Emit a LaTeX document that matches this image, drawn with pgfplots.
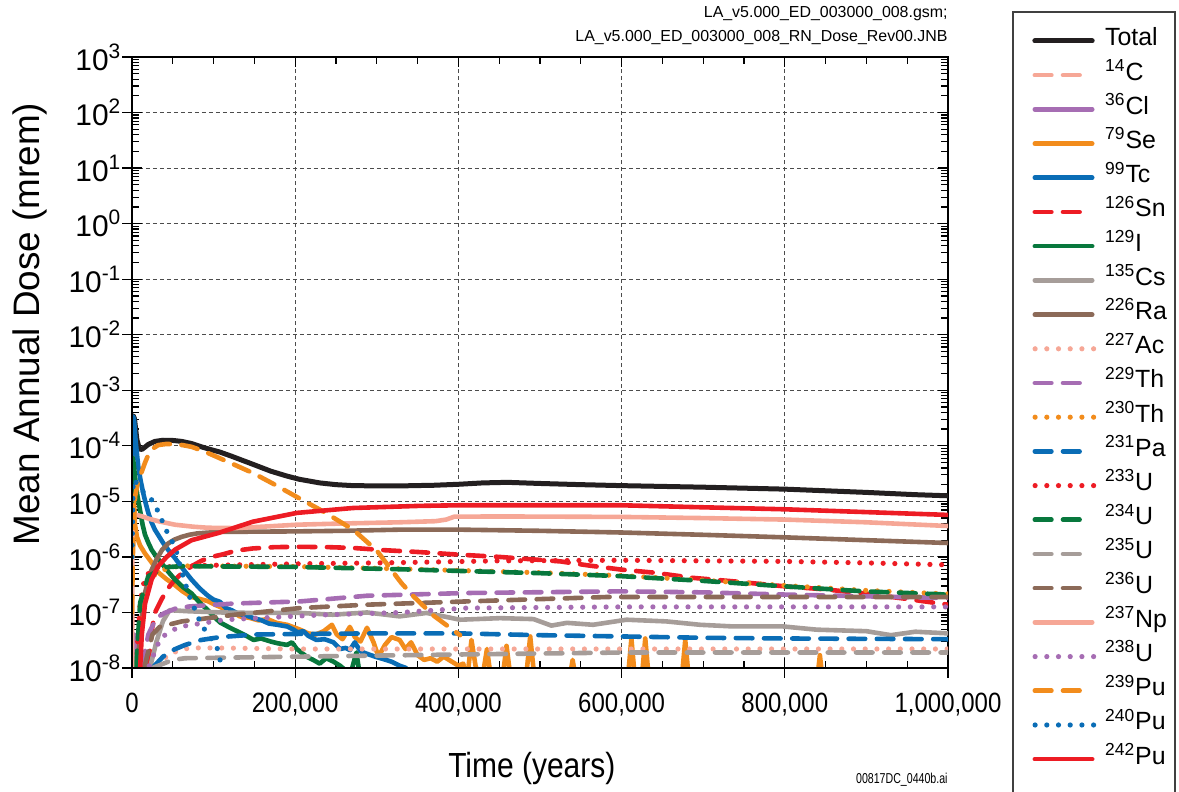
\documentclass[border=0pt]{standalone}
\usepackage{fontspec}
\setmainfont{Liberation Sans}
\newfontfamily\narrowfont{Liberation Sans}[FakeStretch=0.86]
\newfontfamily\narrowerfont{Liberation Sans}[FakeStretch=0.74]
\usepackage{pgfplots}
\pgfplotsset{compat=1.18}
\definecolor{cblack}{HTML}{231F20}
\definecolor{csalmon}{HTML}{F6A796}
\definecolor{cpurple}{HTML}{A66DB3}
\definecolor{corange}{HTML}{F28C1C}
\definecolor{cblue}{HTML}{0A6DB6}
\definecolor{cred}{HTML}{ED1C24}
\definecolor{cgreen}{HTML}{08783D}
\definecolor{cgray}{HTML}{A69D99}
\definecolor{cbrown}{HTML}{8C6A58}
\newcommand\ysup[1]{10\raisebox{6bp}{\fontsize{10.5}{11}\selectfont #1}}
\tikzset{
 solidl/.style={line width=2.3bp, line cap=round, line join=round},
 dashl/.style={line width=2.3bp, line cap=round, line join=round, dash pattern=on 8.3bp off 5.8bp},
 dotl/.style={line width=2.6bp, line cap=round, line join=round, dash pattern=on 0bp off 5.85bp},
}
\pgfplotsset{
 solidleg/.style={legend image code/.code={\draw[##1] (1.15bp,0bp) -- (29.85bp,0bp);}},
 dashleg/.style={legend image code/.code={\draw[##1] (1.15bp,0bp) -- (26bp,0bp);}},
 dotleg/.style={legend image code/.code={\draw[##1] (1.3bp,0bp) -- (31bp,0bp);}},
}
\begin{document}
\begin{tikzpicture}
\path[use as bounding box] (-66bp,-62bp) rectangle (523.5bp,334bp);
\begin{axis}[
 at={(0,0)}, anchor=south west,
 scale only axis, width=408bp, height=305.5bp,
 xmin=0, xmax=1000000, ymode=log, ymin=1e-8, ymax=1e3,
 scaled x ticks=false,
 xtick={0,200000,400000,600000,800000,1000000},
 xticklabels={0,{200,000},{400,000},{600,000},{800,000},{1,000,000}},
 minor x tick num=3,
 ytick={1e-8,1e-7,1e-6,1e-5,1e-4,1e-3,1e-2,1e-1,1,1e1,1e2,1e3},
 yticklabels={\ysup{-8},\ysup{-7},\ysup{-6},\ysup{-5},\ysup{-4},\ysup{-3},\ysup{-2},\ysup{-1},\ysup{0},\ysup{1},\ysup{2},\ysup{3}},
 tick align=inside, major tick length=5bp, minor tick length=3.5bp,
 every tick/.style={black, line width=0.6bp},
 axis line style={line width=1.4bp},
 grid=major,
 major grid style={line width=0.5bp, color=black!70, dash pattern=on 2bp off 1.5bp},
 xticklabel style={font=\narrowfont\fontsize{14}{16}\selectfont, yshift=-9bp},
 yticklabel style={font=\fontsize{15}{17}\selectfont, xshift=-2.3bp},
 xlabel={Time (years)},
 xlabel style={font=\narrowfont\fontsize{17.5}{20}\selectfont, at={(axis description cs:0.49,-0.164)}, anchor=center},
 ylabel={Mean Annual Dose (mrem)},
 ylabel style={font=\fontsize{18.5}{21}\selectfont, at={(axis description cs:-0.125,0.563)}, anchor=center},
 legend cell align=left,
 legend style={at={(1.10331,1.0542)}, anchor=north west, draw=none, fill=none,
   inner sep=0pt, outer sep=0pt, row sep=0pt, column sep=4bp,
   font=\fontsize{12.5}{14}\selectfont,
   nodes={inner sep=0pt, outer sep=0pt, text height=11.05bp, text depth=6.05bp}},
]
% Total
\addplot[solidl, cblack, line width=2.5bp, solidleg] coordinates {
(0,6e-5) (1500,3.5e-4) (3000,3.1e-4) (6000,1.3e-4) (9000,8.8e-5) (12000,8.6e-5) (16000,9.5e-5) (20000,1.06e-4) (28000,1.2e-4) (38000,1.26e-4) (50000,1.25e-4) (61000,1.2e-4) (73000,1.1e-4) (85000,9.6e-5) (96000,8.6e-5) (108000,7.7e-5) (122000,6.5e-5) (135000,5.5e-5) (149000,4.6e-5) (170000,3.5e-5) (190000,2.85e-5) (205000,2.5e-5) (230000,2.15e-5) (250000,2e-5) (271000,1.92e-5) (300000,1.9e-5) (330000,1.9e-5) (370000,1.95e-5) (400000,2.03e-5) (430000,2.15e-5) (460000,2.2e-5) (500000,2.1e-5) (550000,2e-5) (600000,1.92e-5) (700000,1.8e-5) (800000,1.66e-5) (900000,1.45e-5) (960000,1.32e-5) (1000000,1.26e-5)};
\addlegendentry{Total}
% 14C
\addplot[dashl, csalmon, dashleg] coordinates {
(0,1e-9) (800,2.5e-8) (2000,1.8e-8) (4000,1.1e-8) (6000,6e-9) (8000,1e-9)};
\addlegendentry{\textsuperscript{14}C}
% 36Cl
\addplot[solidl, cpurple, solidleg] coordinates {
(0,1e-9) (1000,1.5e-8) (3000,4e-8) (6000,2.5e-8) (10000,1.2e-8) (14000,5e-9) (16000,1e-9)};
\addlegendentry{\textsuperscript{36}Cl}
% 79Se
\addplot[solidl, corange, solidleg] coordinates {
(0,2e-6) (800,3e-5) (2000,1.5e-5) (3500,4e-6) (6000,2.3e-6) (10000,1.6e-6) (16000,1.15e-6) (24000,8e-7) (32000,5.3e-7) (42000,4e-7) (52700,3.1e-7) (62000,2.4e-7) (73000,1.9e-7) (83000,1.75e-7) (93000,1.6e-7) (103000,1.35e-7) (114000,1.15e-7) (124000,1e-7) (132000,8.5e-8) (144000,8e-8) (155000,7.2e-8) (166000,7.6e-8) (177000,6.5e-8) (190000,6e-8) (206000,4.9e-8) (216000,4.2e-8) (225000,4e-8) (235000,4.6e-8) (245000,6e-8) (251000,4e-8) (258000,3.3e-8) (267000,5.5e-8) (273000,3.6e-8) (280000,3e-8) (288000,5.3e-8) (296000,2.9e-8) (302000,1.6e-8) (310000,2.6e-8) (318000,3.6e-8) (328000,3.2e-8) (335000,2.2e-8) (342000,2.9e-8) (350000,1.7e-8) (358000,1.4e-8) (366000,1.5e-8) (374000,1.3e-8) (382000,1.6e-8) (392000,1.3e-8) (400000,1.1e-8) (406000,1.2e-8) (410000,5e-9) (416000,3.2e-8) (421000,1.1e-8) (428000,5e-9) (435000,2.2e-8) (441000,5e-9) (453000,5e-9) (459000,2.5e-8) (465000,5e-9) (482000,5e-9) (488000,3.7e-8) (494000,5e-9) (535000,5e-9) (540000,1.4e-8) (545000,5e-9) (607000,5e-9) (612000,3.4e-8) (617000,5e-9) (624000,5e-9) (629000,3.4e-8) (634000,5e-9) (673000,5e-9) (678000,3.2e-8) (683000,5e-9) (839000,5e-9) (843000,1.7e-8) (847000,5e-9) (1000000,5e-9)};
\addlegendentry{\textsuperscript{79}Se}
% 99Tc
\addplot[solidl, cblue, solidleg] coordinates {
(0,5e-5) (1200,3.4e-4) (2500,3e-4) (4500,1.2e-4) (7700,4.2e-5) (10500,2.4e-5) (13800,1.4e-5) (17000,9e-6) (20000,6.2e-6) (24000,4.2e-6) (28000,3.1e-6) (32000,2.5e-6) (38000,1.8e-6) (45000,1.3e-6) (52700,9.5e-7) (62000,6.2e-7) (73000,3.9e-7) (83000,2.7e-7) (93000,2e-7) (100000,1.7e-7) (108000,1.55e-7) (115000,1.2e-7) (122000,1.1e-7) (130000,9.5e-8) (140000,8.8e-8) (149000,7.9e-8) (158000,7.3e-8) (168000,6.3e-8) (178000,6e-8) (190000,5.6e-8) (197000,5e-8) (203000,4.4e-8) (210000,4.6e-8) (216000,3.8e-8) (226000,3.2e-8) (236000,3.3e-8) (247000,2.9e-8) (255000,2.2e-8) (262000,2.3e-8) (267000,2.1e-8) (273000,2.9e-8) (280000,2e-8) (288000,1.8e-8) (298000,1.6e-8) (308000,1.45e-8) (318000,1.3e-8) (328000,1.1e-8) (336000,1e-8) (340000,5e-9)};
\addlegendentry{\textsuperscript{99}Tc}
% 126Sn
\addplot[dashl, cred, dashleg] coordinates {
(14000,1e-9) (20000,1e-8) (24000,4.5e-8) (28000,9.8e-8) (36000,1.7e-7) (44000,2.7e-7) (52700,3.9e-7) (62000,5.2e-7) (73000,6.8e-7) (85000,8.5e-7) (97500,1e-6) (110000,1.1e-6) (128000,1.3e-6) (148000,1.42e-6) (175000,1.5e-6) (202000,1.52e-6) (240000,1.5e-6) (271000,1.45e-6) (310000,1.32e-6) (353000,1.22e-6) (400000,1.1e-6) (450000,1.0e-6) (525000,8.3e-7) (560000,7e-7) (600000,5.9e-7) (640000,5.2e-7) (687000,4.2e-7) (740000,3.6e-7) (800000,2.95e-7) (850000,2.6e-7) (897000,2.2e-7) (950000,1.75e-7) (1000000,1.38e-7)};
\addlegendentry{\textsuperscript{126}Sn}
% 129I
\addplot[solidl, cgreen, solidleg] coordinates {
(0,1e-5) (1000,6e-5) (2200,4.5e-5) (3700,2.8e-5) (6500,1.3e-5) (9800,7e-6) (13000,3.8e-6) (16000,2.5e-6) (20000,1.8e-6) (24000,1.35e-6) (30000,1e-6) (36000,7.8e-7) (44000,5.5e-7) (52700,3.9e-7) (62000,2.9e-7) (73000,2.2e-7) (83000,1.5e-7) (93000,1.1e-7) (100000,8.5e-8) (108000,6.6e-8) (118000,5.5e-8) (130000,4.5e-8) (140000,3.8e-8) (149000,3.2e-8) (158000,3.4e-8) (170000,3e-8) (178000,2.8e-8) (190000,2.6e-8) (196000,2.9e-8) (202000,2.2e-8) (214000,1.6e-8) (222000,1.4e-8) (230000,1.2e-8) (238000,1.5e-8) (247000,1.3e-8) (255000,1.1e-8) (262000,9e-9) (268000,8e-9) (275000,1.9e-8) (281000,5e-9) (290000,1e-9)};
\addlegendentry{\textsuperscript{129}I}
% 135Cs
\addplot[solidl, cgray, solidleg] coordinates {
(15000,1e-9) (22000,1e-8) (30000,3e-8) (38000,7e-8) (46000,1.1e-7) (70000,1.05e-7) (110000,1e-7) (150000,9.8e-8) (206000,9.8e-8) (246000,9.1e-8) (288000,1e-7) (328000,8.5e-8) (361000,9.8e-8) (402000,7.4e-8) (451000,7.9e-8) (492000,7.6e-8) (514000,5.8e-8) (533000,6.5e-8) (565000,6e-8) (606000,7.4e-8) (655000,6.9e-8) (696000,6e-8) (737000,5.6e-8) (798000,5.6e-8) (839000,4.9e-8) (900000,4.6e-8) (930000,3.9e-8) (960000,4.5e-8) (1000000,4.2e-8)};
\addlegendentry{\textsuperscript{135}Cs}
% 226Ra
\addplot[solidl, cbrown, solidleg] coordinates {
(5000,1e-9) (7000,1e-8) (10000,5e-8) (15000,2e-7) (22000,5e-7) (30000,9e-7) (37000,1.35e-6) (44500,1.75e-6) (52000,2.05e-6) (61000,2.3e-6) (70000,2.5e-6) (80000,2.65e-6) (95000,2.75e-6) (110000,2.82e-6) (150000,2.85e-6) (200000,2.88e-6) (260000,2.95e-6) (330000,3.1e-6) (400000,3.1e-6) (500000,2.95e-6) (600000,2.75e-6) (700000,2.5e-6) (800000,2.25e-6) (900000,2e-6) (1000000,1.78e-6)};
\addlegendentry{\textsuperscript{226}Ra}
% 227Ac
\addplot[dotl, csalmon, dotleg] coordinates {
(20000,1e-9) (30000,1e-8) (45000,1.8e-8) (70000,2.3e-8) (100000,2.3e-8) (200000,2.2e-8) (400000,2.2e-8) (600000,2.2e-8) (800000,2.2e-8) (1000000,2.2e-8)};
\addlegendentry{\textsuperscript{227}Ac}
% 229Th
\addplot[dashl, cpurple, dashleg] coordinates {
(8000,1e-9) (12000,1e-8) (20000,4e-8) (30000,8e-8) (40000,9.8e-8) (53000,1.17e-7) (70000,1.28e-7) (93000,1.35e-7) (126000,1.45e-7) (206000,1.58e-7) (288000,2e-7) (410000,2.24e-7) (600000,2.4e-7) (700000,2.3e-7) (800000,2.1e-7) (900000,1.95e-7) (1000000,1.82e-7)};
\addlegendentry{\textsuperscript{229}Th}
% 230Th
\addplot[dotl, corange, dotleg] coordinates {
(3000,1e-9) (6000,1e-8) (12000,1.5e-7) (25000,4.5e-7) (45000,6.5e-7) (70000,6.9e-7) (200000,6.7e-7) (328000,6.1e-7) (400000,5.7e-7) (500000,5.2e-7) (600000,4.6e-7) (700000,3.8e-7) (800000,3.05e-7) (897000,2.5e-7) (1000000,2.15e-7)};
\addlegendentry{\textsuperscript{230}Th}
% 231Pa
\addplot[dashl, cblue, dashleg] coordinates {
(15000,1e-9) (25000,1e-8) (38000,1.6e-8) (50000,2.1e-8) (65000,2.6e-8) (85000,3.2e-8) (108000,3.6e-8) (150000,4e-8) (200000,4.1e-8) (300000,4.2e-8) (400000,4.2e-8) (500000,3.9e-8) (600000,3.7e-8) (700000,3.5e-8) (800000,3.4e-8) (1000000,3.3e-8)};
\addlegendentry{\textsuperscript{231}Pa}
% 233U
\addplot[dotl, cred, dotleg] coordinates {
(3000,1e-9) (5000,1e-8) (10000,1.5e-7) (16000,4.5e-7) (30000,6.5e-7) (80000,7e-7) (200000,7.5e-7) (328000,7.9e-7) (450000,8.5e-7) (600000,8.7e-7) (800000,8.3e-7) (900000,7.8e-7) (1000000,7.2e-7)};
\addlegendentry{\textsuperscript{233}U}
% 234U
\addplot[dashl, cgreen, dashleg] coordinates {
(3000,1e-9) (5000,1e-8) (10000,1.5e-7) (20000,4.5e-7) (40000,6.5e-7) (60000,6.8e-7) (200000,6.6e-7) (328000,6e-7) (400000,5.6e-7) (500000,5.1e-7) (600000,4.5e-7) (700000,3.7e-7) (800000,2.95e-7) (897000,2.4e-7) (1000000,2.1e-7)};
\addlegendentry{\textsuperscript{234}U}
% 235U
\addplot[dashl, cgray, dashleg] coordinates {
(15000,1e-9) (25000,1e-8) (50000,1.4e-8) (65000,1.5e-8) (200000,1.6e-8) (400000,1.75e-8) (600000,1.9e-8) (1000000,1.9e-8)};
\addlegendentry{\textsuperscript{235}U}
% 236U
\addplot[dashl, cbrown, dashleg] coordinates {
(8000,1e-9) (15000,1e-8) (25000,4e-8) (34000,5.5e-8) (61000,6.9e-8) (93000,7.9e-8) (126000,9.1e-8) (206000,1.2e-7) (288000,1.38e-7) (410000,1.58e-7) (583000,1.9e-7) (800000,1.9e-7) (1000000,1.9e-7)};
\addlegendentry{\textsuperscript{236}U}
% 237Np
\addplot[solidl, csalmon, solidleg] coordinates {
(0,1e-9) (500,3e-6) (2000,5.5e-6) (5700,5.7e-6) (12000,5.4e-6) (20000,4.9e-6) (32000,4.4e-6) (52700,3.8e-6) (75000,3.5e-6) (93000,3.35e-6) (126000,3.3e-6) (160000,3.5e-6) (202000,3.8e-6) (260000,4e-6) (328000,4.2e-6) (372000,4.4e-6) (385000,4.7e-6) (395000,5.3e-6) (450000,5.35e-6) (600000,5.25e-6) (700000,5e-6) (800000,4.7e-6) (900000,4.2e-6) (1000000,3.6e-6)};
\addlegendentry{\textsuperscript{237}Np}
% 238U
\addplot[dotl, cpurple, dotleg] coordinates {
(10000,1e-9) (20000,1e-8) (35000,3.5e-8) (57000,5.5e-8) (114000,7.4e-8) (230000,9e-8) (330000,1e-7) (410000,1.2e-7) (600000,1.26e-7) (1000000,1.26e-7)};
\addlegendentry{\textsuperscript{238}U}
% 239Pu
\addplot[dashl, corange, dashleg] coordinates {
(0,1e-7) (1000,1e-6) (3700,1.2e-5) (7800,2.5e-5) (11900,3.4e-5) (16000,5e-5) (20000,6.9e-5) (26000,9e-5) (32000,1.03e-4) (42000,1.08e-4) (52700,1.07e-4) (62000,1.03e-4) (73000,9.6e-5) (87000,8.1e-5) (102000,6.5e-5) (125000,4.6e-5) (149000,3.2e-5) (175000,2e-5) (202000,1.2e-5) (235000,6.5e-6) (271000,3.1e-6) (300000,1.3e-6) (330000,3.4e-7) (345000,1.95e-7) (369000,8.9e-8) (402000,3.9e-8)};
\addlegendentry{\textsuperscript{239}Pu}
% 240Pu
\addplot[dotl, cblue, dotleg] coordinates {
(0,1e-6) (1500,2.5e-5) (5000,2.2e-5) (15000,1.4e-5) (24000,1.07e-5) (32000,6.6e-6) (38000,4.1e-6) (44000,2.6e-6) (53000,1.5e-6) (60000,6e-7) (70000,2e-7) (85000,6e-8) (104000,2.4e-8) (112000,8e-9)};
\addlegendentry{\textsuperscript{240}Pu}
% 242Pu
\addplot[solidl, cred, solidleg] coordinates {
(8000,1e-9) (10000,1e-8) (12000,4e-8) (16000,1.45e-7) (24000,3.9e-7) (32000,6.8e-7) (42500,1e-6) (52700,1.35e-6) (73000,2e-6) (106000,2.7e-6) (148000,4.3e-6) (202000,6.2e-6) (271000,7.6e-6) (353000,8.3e-6) (400000,8.5e-6) (600000,8.5e-6) (800000,7.2e-6) (1000000,5.7e-6)};
\addlegendentry{\textsuperscript{242}Pu}
\end{axis}
% outward major ticks on the bottom and left sides
\begin{axis}[
 at={(0,0)}, anchor=south west,
 scale only axis, width=408bp, height=305.5bp,
 xmin=0, xmax=1000000, ymode=log, ymin=1e-8, ymax=1e3,
 axis x line*=bottom, axis y line*=left,
 scaled x ticks=false,
 xtick={0,200000,400000,600000,800000,1000000}, xticklabels={},
 ytick={1e-8,1e-7,1e-6,1e-5,1e-4,1e-3,1e-2,1e-1,1,1e1,1e2,1e3}, yticklabels={},
 xminorticks=false, yminorticks=false,
 tick align=outside, major tick length=5bp,
 every tick/.style={black, line width=0.6bp},
 axis line style={line width=1.4bp, -},
]
\end{axis}
\draw[line width=1bp, black!75] (440.5bp,-70bp) -- (440.5bp,328bp) -- (521.5bp,328bp) -- (521.5bp,-70bp);
\node[anchor=base east, inner sep=0pt, font=\fontsize{8}{9}\selectfont] at (408bp,325bp) {LA\_v5.000\_ED\_003000\_008.gsm;};
\node[anchor=base east, inner sep=0pt, font=\fontsize{8}{9}\selectfont] at (408bp,313bp) {LA\_v5.000\_ED\_003000\_008\_RN\_Dose\_Rev00.JNB};
\node[anchor=base east, inner sep=0pt, font=\narrowerfont\fontsize{7.2}{8}\selectfont] at (408bp,-57.5bp) {00817DC\_0440b.ai};
\end{tikzpicture}
\end{document}
